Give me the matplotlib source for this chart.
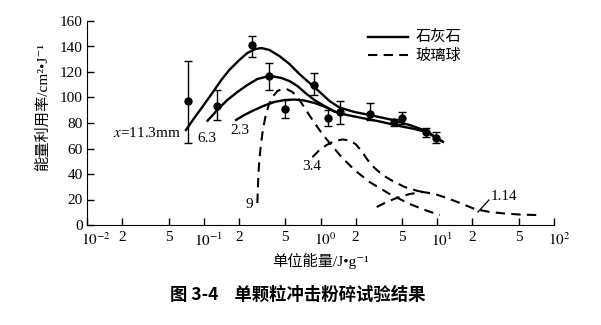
import numpy as np
import matplotlib
matplotlib.use("Agg")
import matplotlib.pyplot as plt
import matplotlib.transforms as mtransforms
from matplotlib.lines import Line2D

plt.rcParams['font.family'] = ['Liberation Serif', 'Noto Sans CJK SC', 'DejaVu Serif']
plt.rcParams['mathtext.fontset'] = 'stix'

# 石灰石试验点 (单位能量 J/g, 能量利用率, 误差上下限)
pt_e = [0.0726, 0.130, 0.260, 0.36, 0.50, 0.887, 1.156, 1.476, 2.63, 4.26, 4.99, 7.97, 9.84]
pt_y = [97, 93, 141, 117, 91, 110, 84, 89, 87, 80.5, 84, 73, 68.5]
pt_hi = [129, 106, 148, 127, 98, 119, 90, 97, 96, 83, 89, 76, 73]
pt_lo = [64, 82, 132, 106, 84, 102, 78, 79, 82, 78, 79, 69, 64]

# 石灰石曲线 (粒径 11.3, 6.3, 2.3 mm)
ls113_e = [0.0704, 0.0829, 0.0971, 0.1183, 0.1413, 0.1655, 0.2017, 0.2362, 0.2768, 0.3116,
           0.3649, 0.4446, 0.5418, 0.6602, 0.8047, 0.9804, 1.195, 1.456, 1.958, 2.634,
           4.150, 5.806, 8.126, 11.15]
ls113_y = [74.5, 83.9, 92.5, 103.5, 113.7, 121.6, 129.4, 134.9, 138.0, 138.8,
           137.3, 132.5, 126.3, 118.4, 111.4, 104.5, 97.2, 92.1, 88.6, 86.3,
           82.4, 78.4, 73.7, 65.3]
ls63_e = [0.1078, 0.1306, 0.1591, 0.1940, 0.2362, 0.2878, 0.3372, 0.3950, 0.4625, 0.5418,
          0.6348, 0.7434, 0.8882, 1.082, 1.319, 1.607, 2.162, 3.209, 4.765, 6.410,
          8.126, 11.15]
ls63_y = [81.8, 90.2, 98.0, 104.3, 109.8, 114.5, 116.1, 116.5, 115.3, 112.9,
          109.0, 103.5, 98.0, 93.3, 89.0, 86.7, 84.3, 81.2, 77.6, 75.3,
          72.7, 65.3]
ls23_e = [0.189, 0.2227, 0.2714, 0.3307, 0.4029, 0.4909, 0.5981, 0.7291, 0.8882, 1.082, 1.319]
ls23_y = [82.4, 86.3, 90.2, 93.7, 96.5, 98.0, 98.4, 97.6, 95.7, 92.9, 89.0]

# 玻璃球曲线 (粒径 9, 3.4, 1.14 mm)
gb9_e = [0.2878, 0.2907, 0.2936, 0.2995, 0.3085, 0.3208, 0.3372, 0.3578, 0.3873, 0.4274,
         0.4718, 0.5208, 0.5750, 0.6348, 0.7147, 0.8209, 0.9804, 1.195, 1.515, 1.958,
         2.634, 3.910, 5.806, 7.811, 10.51]
gb9_y = [17.3, 27.5, 39.2, 51.0, 62.7, 74.5, 84.7, 93.3, 100.4, 105.1,
         106.7, 106.3, 104.3, 100.4, 93.3, 84.7, 74.5, 64.3, 53.3, 43.1,
         33.7, 24.3, 16.5, 11.8, 7.8]
gb34_e = [0.8537, 0.9804, 1.126, 1.319, 1.545, 1.774, 1.997, 2.249, 2.532, 2.907,
          3.405, 4.150, 5.260, 6.802, 8.623]
gb34_y = [53.3, 58.8, 62.7, 65.9, 67.1, 66.3, 63.5, 58.0, 51.0, 44.7,
          39.2, 34.5, 29.8, 26.7, 25.1]
gb114_e = [3.025, 3.685, 4.491, 5.806, 7.508, 9.517, 12.06, 15.60, 20.98, 28.22,
           37.96, 51.07, 71.46]
gb114_y = [14.1, 18.0, 21.2, 24.3, 25.9, 24.3, 21.2, 17.3, 12.5, 10.2,
           9.0, 8.2, 7.8]

xmajor = [1e-2, 1e-1, 1e0, 1e1, 1e2]
xmajor_lbl = [r'$10^{-2}$', r'$10^{-1}$', r'$10^{0}$', r'$10^{1}$', r'$10^{2}$']
xminor = [2e-2, 5e-2, 2e-1, 5e-1, 2, 5, 20, 50]
xminor_lbl = ['2', '5', '2', '5', '2', '5', '2', '5']

fig = plt.figure(figsize=(6.01, 3.25), dpi=100)
ax = fig.add_axes([87 / 601, 1 - 225 / 325, (554 - 87) / 601, 204 / 325])

lw = 1.7
dash = (0, (4.5, 3))
ax.plot(ls113_e, ls113_y, 'k-', lw=lw)
ax.plot(ls63_e, ls63_y, 'k-', lw=lw)
ax.plot(ls23_e, ls23_y, 'k-', lw=lw)
for e, y in [(gb9_e, gb9_y), (gb34_e, gb34_y), (gb114_e, gb114_y)]:
    ax.plot(e, y, color='k', lw=1.5, ls=dash)

yerr = [np.array(pt_y) - np.array(pt_lo), np.array(pt_hi) - np.array(pt_y)]
ax.errorbar(pt_e, pt_y, yerr=yerr, fmt='o', color='k', ms=5,
            elinewidth=1, capsize=3, capthick=1)

# 曲线标注
fs = 11
ax.text(0.0641, 72, r'$x$=11.3mm', ha='right', va='center', fontsize=fs)
ax.text(0.107, 68, '6.3', ha='center', va='center', fontsize=fs)
ax.text(0.202, 74, '2.3', ha='center', va='center', fontsize=fs)
ax.text(0.246, 15.7, '9', ha='center', va='center', fontsize=fs)
ax.text(0.837, 45.5, '3.4', ha='center', va='center', fontsize=fs)
ax.text(28.5, 22, '1.14', ha='left', va='center', fontsize=fs)
ax.plot([22.3, 27.7], [10.2, 19.6], 'k-', lw=0.9)

ax.set_xscale('log')
ax.set_xlim(1e-2, 1e2)
ax.set_ylim(0, 160)
ax.set_yticks(range(0, 161, 20))
ax.set_xticks(xmajor)
ax.set_xticklabels(xmajor_lbl)
ax.set_xticks(xminor, minor=True)
ax.set_xticklabels(xminor_lbl, minor=True)
ax.tick_params(axis='both', which='both', direction='in', length=5, width=1,
               labelsize=11, pad=3)
ax.tick_params(axis='x', which='both', pad=4.5)
for i, lbl in enumerate(ax.get_xticklabels()):
    dx = 9 if i == 0 else 5
    shift = mtransforms.ScaledTranslation(dx / 100, 0, fig.dpi_scale_trans)
    lbl.set_transform(lbl.get_transform() + shift)
for s in ['top', 'right']:
    ax.spines[s].set_visible(False)

ax.set_xlabel('单位能量/J•g⁻¹', fontsize=11, labelpad=3)
ax.set_ylabel('能量利用率/cm²•J⁻¹', fontsize=11, labelpad=4)
ax.yaxis.set_label_coords(-0.08, 0.58)

handles = [Line2D([], [], color='k', lw=lw),
           Line2D([], [], color='k', lw=1.5, ls=dash)]
fig.legend(handles, ['石灰石', '玻璃球'], loc='upper left',
           bbox_to_anchor=(368 / 601, 1 - 31 / 325), frameon=False,
           fontsize=11, handlelength=2.6, handletextpad=0.5, labelspacing=0.25,
           borderpad=0, borderaxespad=0)

fig.text(298 / 601, 1 - 295 / 325, '图 3-4    单颗粒冲击粉碎试验结果',
         ha='center', va='center', fontsize=12.5, fontweight='bold',
         family=['Noto Sans CJK SC', 'DejaVu Sans'])

fig.savefig('out.png', dpi=100)
